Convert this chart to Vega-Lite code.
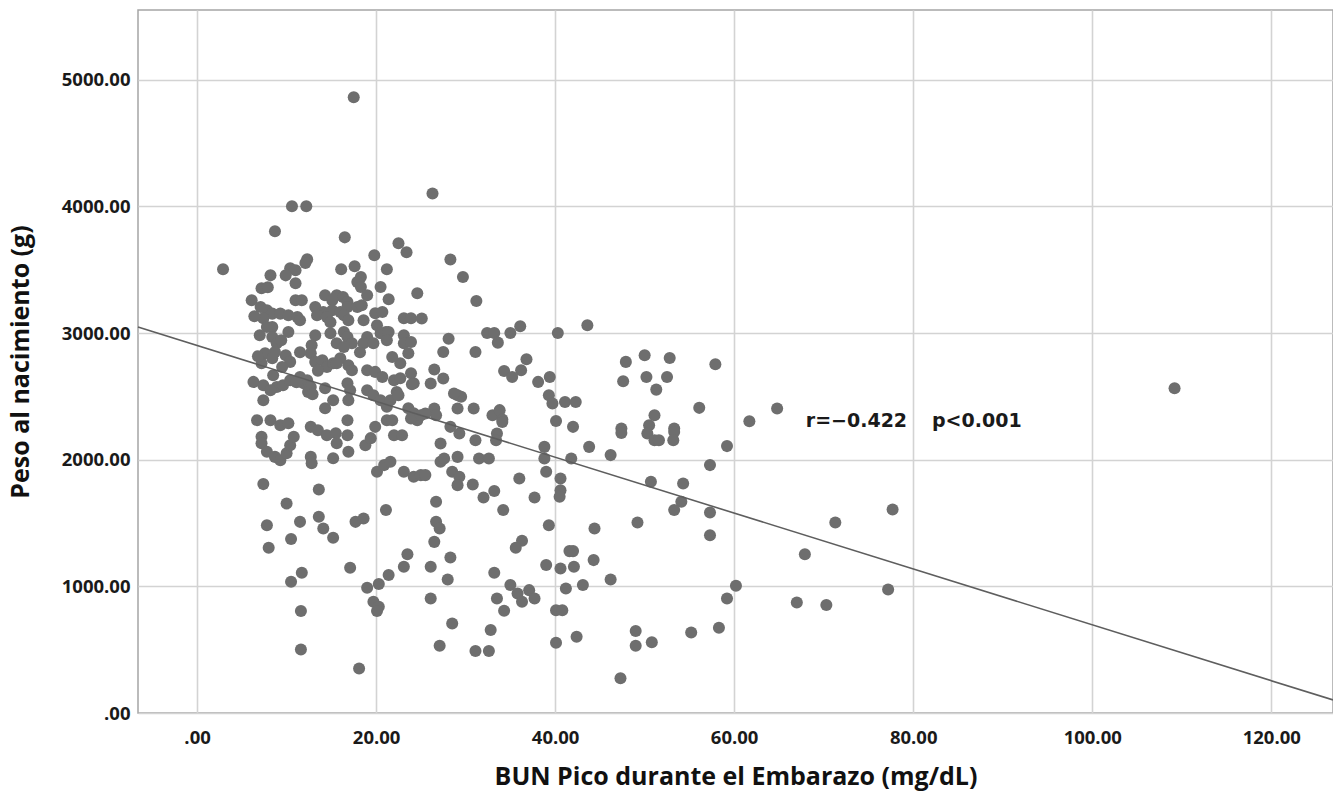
{
  "$schema": "https://vega.github.io/schema/vega-lite/v6.json",
  "width": 1195,
  "height": 703,
  "autosize": "none",
  "padding": {"left": 138, "top": 10, "right": 0, "bottom": 81},
  "background": "white",
  "config": {
    "view": {"stroke": "#a5a5a5", "strokeWidth": 1.5},
    "axis": {
      "domain": false,
      "ticks": false,
      "grid": true,
      "gridColor": "#d3d3d3",
      "gridWidth": 1.6,
      "labelFont": "Open Sans",
      "labelFontWeight": "bold",
      "labelFontSize": 18.5,
      "labelColor": "#1a1a1a",
      "titleFont": "Open Sans",
      "titleFontWeight": "bold",
      "titleFontSize": 25,
      "titleColor": "#111111"
    }
  },
  "datasets": {
    "pts": [
      {"bun":17.5,"peso":4862},{"bun":26.3,"peso":4101},{"bun":10.6,"peso":4000},{"bun":12.2,"peso":4000},{"bun":8.7,"peso":3803},
      {"bun":16.5,"peso":3755},{"bun":19.8,"peso":3613},{"bun":22.5,"peso":3708},{"bun":23.4,"peso":3637},{"bun":2.9,"peso":3503},
      {"bun":12.3,"peso":3582},{"bun":12.1,"peso":3553},{"bun":16.1,"peso":3503},{"bun":17.6,"peso":3527},{"bun":18.3,"peso":3442},
      {"bun":21.2,"peso":3503},{"bun":10.4,"peso":3511},{"bun":11.0,"peso":3495},{"bun":8.2,"peso":3455},{"bun":9.9,"peso":3455},
      {"bun":11.0,"peso":3392},{"bun":17.9,"peso":3403},{"bun":18.3,"peso":3363},{"bun":20.5,"peso":3363},{"bun":24.6,"peso":3313},
      {"bun":7.2,"peso":3353},{"bun":7.9,"peso":3361},{"bun":21.4,"peso":3266},{"bun":6.1,"peso":3258},{"bun":11.0,"peso":3258},
      {"bun":11.7,"peso":3258},{"bun":14.3,"peso":3298},{"bun":15.6,"peso":3298},{"bun":16.3,"peso":3285},{"bun":15.1,"peso":3258},
      {"bun":16.8,"peso":3245},{"bun":19.0,"peso":3298},{"bun":13.2,"peso":3206},{"bun":14.1,"peso":3166},{"bun":15.1,"peso":3180},
      {"bun":16.0,"peso":3166},{"bun":16.8,"peso":3206},{"bun":17.9,"peso":3206},{"bun":18.4,"peso":3219},{"bun":7.1,"peso":3206},
      {"bun":7.8,"peso":3180},{"bun":8.4,"peso":3153},{"bun":9.3,"peso":3153},{"bun":10.2,"peso":3140},{"bun":11.2,"peso":3127},
      {"bun":11.5,"peso":3101},{"bun":7.4,"peso":3116},{"bun":8.4,"peso":3048},{"bun":7.8,"peso":3048},{"bun":13.4,"peso":3140},
      {"bun":14.5,"peso":3127},{"bun":16.4,"peso":3140},{"bun":16.9,"peso":3101},{"bun":18.6,"peso":3101},{"bun":19.9,"peso":3156},
      {"bun":20.7,"peso":3166},{"bun":20.1,"peso":3061},{"bun":21.1,"peso":3008},{"bun":23.1,"peso":3116},{"bun":23.9,"peso":3116},
      {"bun":10.2,"peso":3008},{"bun":13.2,"peso":2982},{"bun":14.9,"peso":2998},{"bun":16.4,"peso":3008},{"bun":16.8,"peso":2969},
      {"bun":19.0,"peso":2969},{"bun":20.5,"peso":2998},{"bun":21.4,"peso":3008},{"bun":23.1,"peso":2982},{"bun":8.4,"peso":2969},
      {"bun":18.6,"peso":2919},{"bun":19.7,"peso":2919},{"bun":17.3,"peso":2919},{"bun":15.6,"peso":2919},{"bun":23.1,"peso":2919},
      {"bun":23.9,"peso":2929},{"bun":23.6,"peso":2840},{"bun":22.7,"peso":2761},{"bun":21.8,"peso":2811},{"bun":8.9,"peso":2919},
      {"bun":8.7,"peso":2850},{"bun":12.8,"peso":2903},{"bun":12.7,"peso":2840},{"bun":7.6,"peso":2840},{"bun":7.2,"peso":2761},
      {"bun":8.4,"peso":2801},{"bun":9.9,"peso":2824},{"bun":10.4,"peso":2772},{"bun":9.5,"peso":2732},{"bun":13.2,"peso":2772},
      {"bun":14.0,"peso":2785},{"bun":14.5,"peso":2732},{"bun":15.2,"peso":2761},{"bun":13.5,"peso":2703},{"bun":16.4,"peso":2890},
      {"bun":16.0,"peso":2801},{"bun":15.6,"peso":2761},{"bun":16.9,"peso":2745},{"bun":17.3,"peso":2706},{"bun":19.0,"peso":2706},
      {"bun":19.9,"peso":2693},{"bun":20.7,"peso":2653},{"bun":22.0,"peso":2627},{"bun":22.7,"peso":2643},{"bun":23.9,"peso":2682},
      {"bun":24.2,"peso":2603},{"bun":6.3,"peso":2614},{"bun":7.4,"peso":2588},{"bun":8.5,"peso":2667},{"bun":8.9,"peso":2574},
      {"bun":8.2,"peso":2548},{"bun":9.6,"peso":2588},{"bun":10.4,"peso":2627},{"bun":11.5,"peso":2653},{"bun":11.9,"peso":2603},
      {"bun":12.3,"peso":2627},{"bun":12.7,"peso":2574},{"bun":12.4,"peso":2535},{"bun":14.3,"peso":2564},{"bun":15.2,"peso":2469},
      {"bun":14.3,"peso":2406},{"bun":16.8,"peso":2603},{"bun":17.1,"peso":2548},{"bun":16.9,"peso":2469},{"bun":7.4,"peso":2469},
      {"bun":19.0,"peso":2548},{"bun":19.7,"peso":2509},{"bun":20.5,"peso":2469},{"bun":21.2,"peso":2417},{"bun":21.6,"peso":2469},
      {"bun":22.3,"peso":2535},{"bun":22.5,"peso":2509},{"bun":23.6,"peso":2406},{"bun":24.2,"peso":2367},{"bun":24.6,"peso":2312},
      {"bun":6.7,"peso":2312},{"bun":8.2,"peso":2312},{"bun":9.3,"peso":2272},{"bun":10.2,"peso":2288},{"bun":7.2,"peso":2180},
      {"bun":7.2,"peso":2130},{"bun":7.8,"peso":2062},{"bun":8.7,"peso":2022},{"bun":9.3,"peso":1996},{"bun":10.0,"peso":2051},
      {"bun":10.4,"peso":2114},{"bun":10.8,"peso":2180},{"bun":12.7,"peso":2259},{"bun":13.5,"peso":2233},{"bun":14.5,"peso":2193},
      {"bun":15.5,"peso":2209},{"bun":15.6,"peso":2130},{"bun":16.8,"peso":2193},{"bun":16.8,"peso":2312},{"bun":12.7,"peso":2022},
      {"bun":12.8,"peso":1972},{"bun":15.2,"peso":2012},{"bun":16.9,"peso":2062},{"bun":18.8,"peso":2114},{"bun":19.4,"peso":2170},
      {"bun":19.9,"peso":2259},{"bun":21.2,"peso":2312},{"bun":21.8,"peso":2312},{"bun":22.0,"peso":2193},{"bun":22.9,"peso":2193},
      {"bun":20.1,"peso":1904},{"bun":20.9,"peso":1957},{"bun":21.6,"peso":1983},{"bun":23.1,"peso":1904},{"bun":24.2,"peso":1865},
      {"bun":7.4,"peso":1807},{"bun":13.6,"peso":1765},{"bun":10.0,"peso":1654},{"bun":7.8,"peso":1483},{"bun":11.5,"peso":1509},
      {"bun":13.6,"peso":1549},{"bun":14.1,"peso":1457},{"bun":15.2,"peso":1383},{"bun":17.7,"peso":1509},{"bun":18.6,"peso":1536},
      {"bun":21.1,"peso":1602},{"bun":10.5,"peso":1373},{"bun":8.0,"peso":1304},{"bun":17.1,"peso":1146},{"bun":11.7,"peso":1107},
      {"bun":10.5,"peso":1036},{"bun":23.5,"peso":1254},{"bun":23.1,"peso":1154},{"bun":21.4,"peso":1089},{"bun":20.3,"peso":1018},
      {"bun":19.0,"peso":989},{"bun":19.7,"peso":878},{"bun":20.3,"peso":839},{"bun":20.1,"peso":805},{"bun":11.6,"peso":805},
      {"bun":11.6,"peso":502},{"bun":18.1,"peso":352},{"bun":25.0,"peso":1878},{"bun":28.3,"peso":3580},{"bun":29.7,"peso":3442},
      {"bun":31.2,"peso":3253},{"bun":25.1,"peso":3114},{"bun":43.6,"peso":3061},{"bun":40.3,"peso":3000},{"bun":32.4,"peso":3000},
      {"bun":33.2,"peso":3000},{"bun":33.6,"peso":2924},{"bun":35.0,"peso":3000},{"bun":36.1,"peso":3053},{"bun":28.1,"peso":2955},
      {"bun":27.5,"peso":2850},{"bun":31.1,"peso":2850},{"bun":26.5,"peso":2712},{"bun":27.5,"peso":2641},{"bun":26.1,"peso":2601},
      {"bun":24.0,"peso":2595},{"bun":36.8,"peso":2793},{"bun":36.2,"peso":2706},{"bun":34.3,"peso":2700},{"bun":35.2,"peso":2653},
      {"bun":38.1,"peso":2614},{"bun":39.4,"peso":2653},{"bun":47.9,"peso":2772},{"bun":50.0,"peso":2824},{"bun":52.8,"peso":2803},
      {"bun":47.6,"peso":2619},{"bun":50.2,"peso":2653},{"bun":52.5,"peso":2653},{"bun":51.3,"peso":2553},{"bun":56.1,"peso":2409},
      {"bun":39.3,"peso":2509},{"bun":39.7,"peso":2443},{"bun":41.1,"peso":2456},{"bun":42.3,"peso":2456},{"bun":40.1,"peso":2306},
      {"bun":42.0,"peso":2259},{"bun":51.1,"peso":2351},{"bun":50.5,"peso":2272},{"bun":29.1,"peso":2509},{"bun":29.5,"peso":2496},
      {"bun":28.7,"peso":2522},{"bun":29.1,"peso":2404},{"bun":30.9,"peso":2404},{"bun":26.5,"peso":2404},{"bun":26.7,"peso":2351},
      {"bun":23.9,"peso":2325},{"bun":25.0,"peso":2351},{"bun":25.5,"peso":2364},{"bun":33.0,"peso":2351},{"bun":33.8,"peso":2391},
      {"bun":34.1,"peso":2317},{"bun":28.3,"peso":2259},{"bun":47.4,"peso":2246},{"bun":53.3,"peso":2246},{"bun":47.4,"peso":2211},
      {"bun":50.3,"peso":2207},{"bun":51.1,"peso":2154},{"bun":51.6,"peso":2154},{"bun":53.3,"peso":2219},{"bun":53.2,"peso":2154},
      {"bun":27.2,"peso":2128},{"bun":27.2,"peso":1983},{"bun":27.6,"peso":2009},{"bun":29.3,"peso":2207},{"bun":31.1,"peso":2154},
      {"bun":33.5,"peso":2207},{"bun":33.4,"peso":2154},{"bun":34.1,"peso":2298},{"bun":38.8,"peso":2101},{"bun":38.8,"peso":2009},
      {"bun":41.8,"peso":2009},{"bun":43.8,"peso":2101},{"bun":46.2,"peso":2036},{"bun":29.1,"peso":2022},{"bun":31.5,"peso":2009},
      {"bun":32.6,"peso":2009},{"bun":25.5,"peso":1878},{"bun":28.5,"peso":1904},{"bun":29.3,"peso":1865},{"bun":29.1,"peso":1799},
      {"bun":30.8,"peso":1804},{"bun":36.0,"peso":1851},{"bun":39.0,"peso":1904},{"bun":40.6,"peso":1851},{"bun":40.6,"peso":1759},
      {"bun":40.5,"peso":1707},{"bun":32.0,"peso":1702},{"bun":33.2,"peso":1752},{"bun":37.7,"peso":1702},{"bun":50.7,"peso":1825},
      {"bun":54.3,"peso":1812},{"bun":54.1,"peso":1668},{"bun":53.3,"peso":1602},{"bun":26.7,"peso":1668},{"bun":34.2,"peso":1602},
      {"bun":26.7,"peso":1509},{"bun":27.1,"peso":1457},{"bun":26.5,"peso":1351},{"bun":39.3,"peso":1483},{"bun":44.4,"peso":1457},
      {"bun":49.2,"peso":1504},{"bun":36.3,"peso":1360},{"bun":35.6,"peso":1304},{"bun":41.6,"peso":1278},{"bun":42.0,"peso":1278},
      {"bun":44.3,"peso":1207},{"bun":26.1,"peso":1154},{"bun":28.3,"peso":1228},{"bun":28.0,"peso":1054},{"bun":33.2,"peso":1107},
      {"bun":39.0,"peso":1168},{"bun":40.6,"peso":1141},{"bun":42.1,"peso":1154},{"bun":46.2,"peso":1054},{"bun":35.0,"peso":1010},
      {"bun":35.8,"peso":944},{"bun":36.3,"peso":878},{"bun":37.1,"peso":970},{"bun":37.7,"peso":904},{"bun":41.2,"peso":983},
      {"bun":43.1,"peso":1010},{"bun":26.1,"peso":904},{"bun":33.5,"peso":904},{"bun":34.3,"peso":807},{"bun":40.1,"peso":812},
      {"bun":40.8,"peso":812},{"bun":28.5,"peso":707},{"bun":32.8,"peso":655},{"bun":27.1,"peso":531},{"bun":31.1,"peso":489},
      {"bun":32.6,"peso":489},{"bun":40.1,"peso":555},{"bun":42.4,"peso":602},{"bun":49.0,"peso":647},{"bun":49.0,"peso":531},
      {"bun":50.8,"peso":558},{"bun":55.2,"peso":636},{"bun":47.3,"peso":274},{"bun":57.9,"peso":2753},{"bun":61.7,"peso":2304},
      {"bun":64.8,"peso":2404},{"bun":59.2,"peso":2107},{"bun":57.3,"peso":1957},{"bun":57.3,"peso":1583},{"bun":57.3,"peso":1404},
      {"bun":71.3,"peso":1504},{"bun":77.7,"peso":1606},{"bun":67.9,"peso":1254},{"bun":60.2,"peso":1004},{"bun":59.2,"peso":904},
      {"bun":67.0,"peso":873},{"bun":70.3,"peso":852},{"bun":77.2,"peso":975},{"bun":58.3,"peso":673},{"bun":109.2,"peso":2564},
      {"bun":7.0,"peso":2982},{"bun":9.4,"peso":2943},{"bun":11.5,"peso":2848},{"bun":6.8,"peso":2817},{"bun":14.9,"peso":3085},
      {"bun":18.2,"peso":2848},{"bun":21.2,"peso":2943},{"bun":12.9,"peso":2517},{"bun":11.1,"peso":2612},{"bun":6.4,"peso":3132}
    ],
    "fit": [
      {"bun": -6.6, "peso": 3047},
      {"bun": 126.9, "peso": 103}
    ],
    "notes": [
      {"bun": 68.0, "peso": 2305, "label": "r=−0.422"},
      {"bun": 82.1, "peso": 2305, "label": "p<0.001"}
    ]
  },
  "layer": [
    {
      "data": {"name": "pts"},
      "mark": {"type": "circle", "size": 145, "color": "#6e6e6e", "opacity": 1},
      "encoding": {
        "x": {
          "field": "bun", "type": "quantitative",
          "scale": {"domain": [-6.6, 126.9], "nice": false, "zero": false},
          "axis": {
            "title": "BUN Pico durante el Embarazo (mg/dL)",
            "values": [0, 20, 40, 60, 80, 100, 120],
            "labelExpr": "datum.value == 0 ? '.00' : format(datum.value, '.2f')",
            "labelPadding": 15,
            "titlePadding": 18
          }
        },
        "y": {
          "field": "peso", "type": "quantitative",
          "scale": {"domain": [0, 5550], "nice": false},
          "axis": {
            "title": "Peso al nacimiento (g)",
            "values": [0, 1000, 2000, 3000, 4000, 5000],
            "labelExpr": "datum.value == 0 ? '.00' : format(datum.value, '.2f')",
            "labelPadding": 8,
            "titlePadding": 28
          }
        }
      }
    },
    {
      "data": {"name": "fit"},
      "mark": {"type": "line", "color": "#5e5e5e", "strokeWidth": 1.6},
      "encoding": {
        "x": {"field": "bun", "type": "quantitative"},
        "y": {"field": "peso", "type": "quantitative"}
      }
    },
    {
      "data": {"name": "notes"},
      "mark": {"type": "text", "align": "left", "baseline": "middle", "font": "DejaVu Sans", "fontWeight": "bold", "fontSize": 19, "color": "#1a1a1a"},
      "encoding": {
        "x": {"field": "bun", "type": "quantitative"},
        "y": {"field": "peso", "type": "quantitative"},
        "text": {"field": "label"}
      }
    }
  ]
}
